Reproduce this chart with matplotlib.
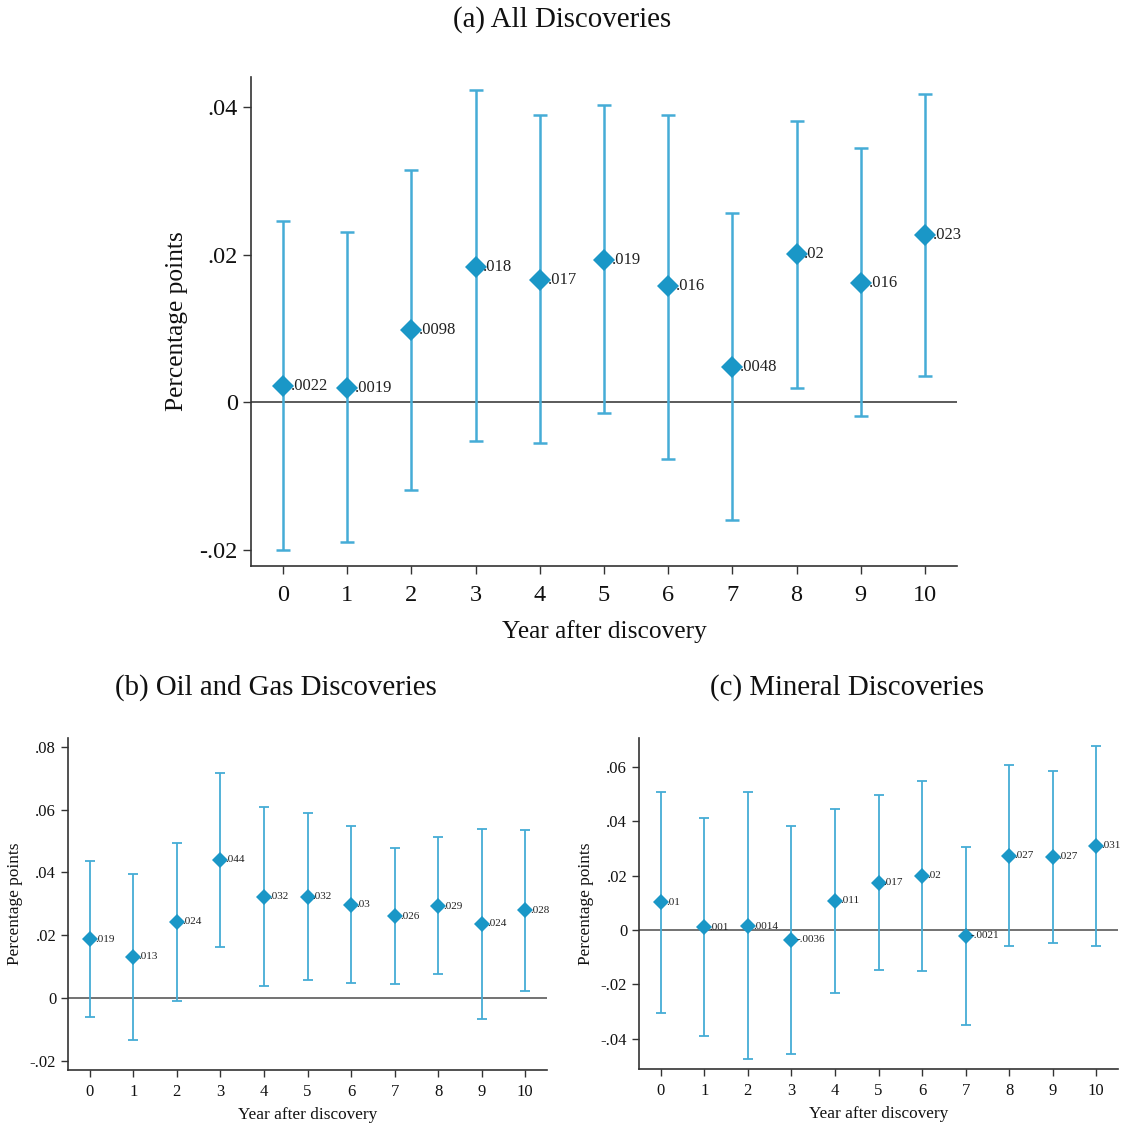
import matplotlib
matplotlib.use("Agg")
import matplotlib.pyplot as plt
import numpy as np

plt.rcParams['font.family'] = ['Liberation Serif', 'DejaVu Serif']

years = list(range(11))

# (a) all discoveries
est_a = [0.0022, 0.0019, 0.0098, 0.0184, 0.0166, 0.0193, 0.0157, 0.0048, 0.0201, 0.0162, 0.0227]
lo_a = [-0.0200, -0.0190, -0.0119, -0.0053, -0.0055, -0.0015, -0.0077, -0.0160, 0.0020, -0.0019, 0.0035]
hi_a = [0.0246, 0.0231, 0.0315, 0.0423, 0.0390, 0.0403, 0.0390, 0.0257, 0.0381, 0.0345, 0.0418]
lab_a = ['.0022', '.0019', '.0098', '.018', '.017', '.019', '.016', '.0048', '.02', '.016', '.023']

# (b) oil and gas
est_b = [0.0187, 0.0132, 0.0243, 0.0441, 0.0323, 0.0323, 0.0297, 0.0260, 0.0293, 0.0237, 0.0279]
lo_b = [-0.0061, -0.0132, -0.0009, 0.0163, 0.0038, 0.0059, 0.0047, 0.0045, 0.0077, -0.0066, 0.0024]
hi_b = [0.0435, 0.0396, 0.0495, 0.0718, 0.0609, 0.0590, 0.0549, 0.0478, 0.0512, 0.0539, 0.0536]
lab_b = ['.019', '.013', '.024', '.044', '.032', '.032', '.03', '.026', '.029', '.024', '.028']

# (c) mineral
est_c = [0.0101, 0.0010, 0.0014, -0.0036, 0.0107, 0.0173, 0.0199, -0.0021, 0.0272, 0.0269, 0.0309]
lo_c = [-0.0307, -0.0392, -0.0477, -0.0457, -0.0233, -0.0148, -0.0151, -0.0349, -0.0060, -0.0048, -0.0059]
hi_c = [0.0509, 0.0412, 0.0506, 0.0384, 0.0443, 0.0497, 0.0548, 0.0306, 0.0605, 0.0584, 0.0676]
lab_c = ['.01', '.001', '.0014', '-.0036', '.011', '.017', '.02', '-.0021', '.027', '.027', '.031']

line_col = '#45acd6'
mark_col = '#1a97c7'
axis_col = '#333333'
text_col = '#111111'


def draw_panel(ax, est, lo, hi, labels, yticks, yticklabels, ylim, big):
    est = np.array(est)
    err = [est - np.array(lo), np.array(hi) - est]
    if big:
        ms, lw, cap, fs_tick, fs_lab, fs_pt, dx = 11, 1.8, 5, 17.5, 18.3, 12, 0.12
    else:
        ms, lw, cap, fs_tick, fs_lab, fs_pt, dx = 8, 1.3, 3.5, 12, 12.4, 8, 0.12
    ax.axhline(0, color='#5a5a5a', lw=1.4 if big else 1.2, zorder=1)
    ax.errorbar(years, est, yerr=err, fmt='none', ecolor=line_col, elinewidth=lw,
                capsize=cap, capthick=lw, zorder=2)
    ax.plot(years, est, 'D', color=mark_col, ms=ms, zorder=3, markeredgewidth=0)
    for x, y, t in zip(years, est, labels):
        ax.text(x + dx, y, t, fontsize=fs_pt, va='center', ha='left', color='#222222')
    ax.set_xlim(-0.5, 10.5)
    ax.set_ylim(*ylim)
    ax.set_xticks(years)
    ax.set_yticks(yticks)
    ax.set_yticklabels(yticklabels)
    ax.tick_params(axis='both', labelsize=fs_tick, colors=axis_col, labelcolor=text_col,
                   length=6 if big else 5, width=1)
    ax.tick_params(axis='x', pad=8 if big else 5)
    for s in ['top', 'right']:
        ax.spines[s].set_visible(False)
    for s in ['left', 'bottom']:
        ax.spines[s].set_color(axis_col)
        ax.spines[s].set_linewidth(1.2)
    ax.set_xlabel('Year after discovery', fontsize=fs_lab, labelpad=10 if big else 5,
                  color=text_col)
    ax.set_ylabel('Percentage points', fontsize=fs_lab, labelpad=8 if big else 5,
                  color=text_col)


fig = plt.figure(figsize=(11.28, 11.26), dpi=100)
W, H = 1128, 1126


def add_axes(left, top, right, bottom):
    return fig.add_axes([left / W, 1 - bottom / H, (right - left) / W, (bottom - top) / H])


ax_a = add_axes(251, 77, 957, 566)
draw_panel(ax_a, est_a, lo_a, hi_a, lab_a, [-0.02, 0, 0.02, 0.04], ['-.02', '0', '.02', '.04'],
           (-0.0222, 0.0441), True)

ax_b = add_axes(68, 738, 547, 1070)
draw_panel(ax_b, est_b, lo_b, hi_b, lab_b, [-0.02, 0, 0.02, 0.04, 0.06, 0.08],
           ['-.02', '0', '.02', '.04', '.06', '.08'], (-0.0229, 0.0828), False)

ax_c = add_axes(639, 738, 1118, 1069)
draw_panel(ax_c, est_c, lo_c, hi_c, lab_c, [-0.04, -0.02, 0, 0.02, 0.04, 0.06],
           ['-.04', '-.02', '0', '.02', '.04', '.06'], (-0.0512, 0.0706), False)

fig.text(562 / W, 1 - 20 / H, '(a) All Discoveries', fontsize=20.8, ha='center', va='center',
         color=text_col)
fig.text(276 / W, 1 - 688 / H, '(b) Oil and Gas Discoveries', fontsize=20.8, ha='center',
         va='center', color=text_col)
fig.text(847 / W, 1 - 688 / H, '(c) Mineral Discoveries', fontsize=20.8, ha='center',
         va='center', color=text_col)

fig.savefig('out.png', dpi=100)
